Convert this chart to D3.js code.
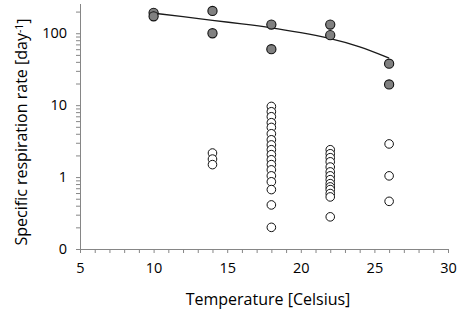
<!DOCTYPE html>
<html>
<head>
<meta charset="utf-8">
<script src="https://cdn.jsdelivr.net/npm/d3@7"></script>
<style>
  body { margin: 0; background: #fff; }
  text { font-family: "Open Sans", sans-serif; fill: #000; }
</style>
</head>
<body>
<div id="chart"></div>
<script>
// Filled markers (grey)
const fillT = [10, 10, 14, 14, 18, 18, 22, 22, 26, 26];
const fillV = [192, 172, 204, 100, 132, 60, 132, 94, 37.7, 19.4];

// Open markers
const openT = [14, 14, 14,
  18, 18, 18, 18, 18, 18, 18, 18, 18, 18, 18, 18, 18, 18, 18, 18, 18, 18,
  22, 22, 22, 22, 22, 22, 22, 22, 22, 22, 22, 22, 22, 22,
  26, 26, 26];
const openV = [2.16, 1.78, 1.49,
  9.6, 8.1, 6.9, 5.7, 4.9, 4.0, 3.3, 2.8, 2.4, 2.05, 1.74, 1.49, 1.26, 1.04, 0.86, 0.67, 0.41, 0.20,
  2.4, 2.11, 1.86, 1.63, 1.38, 1.18, 1.04, 0.92, 0.81, 0.73, 0.67, 0.59, 0.53, 0.28,
  2.89, 1.04, 0.46];

// Trend line
const trendT = [10, 12, 14, 16, 18, 20, 22, 24, 26];
const trendV = [190, 170, 151, 135, 120, 102, 85, 66, 45];

const xTicks = [5, 10, 15, 20, 25, 30];
const yTicks = [0.1, 1, 10, 100];
const yTickLabels = ["0", "1", "10", "100"];

const width = 459, height = 312;
const svg = d3.select("#chart").append("svg")
  .attr("width", width).attr("height", height);

const x = d3.scaleLinear().domain([5, 30]).range([80, 448]);
const y = d3.scaleLog().domain([0.1, 255]).range([249, 4]);

const axisColor = "#868686";

// x axis with minor ticks every unit
const xAll = d3.range(5, 31, 1);
const gx = svg.append("g").attr("transform", `translate(0,${y(0.1)})`)
  .call(d3.axisBottom(x).tickValues(xAll).tickSize(4).tickSizeOuter(0)
    .tickFormat(d => xTicks.includes(d) ? d : ""));
gx.select(".domain").attr("stroke", axisColor).attr("d", `M${x(5) - 4},0.5H${x(30)}`);
gx.selectAll(".tick line").attr("stroke", axisColor);
gx.selectAll(".tick text").attr("dy", "1.2em").style("font-size", "14.5px");

// y axis with log minor ticks
const yAll = [];
[0.1, 1, 10, 100].forEach(dec => {
  for (let k = 1; k <= 9; k++) {
    const v = dec * k;
    if (v <= 255) yAll.push(+v.toPrecision(3));
  }
});
const gy = svg.append("g").attr("transform", `translate(${x(5)},0)`)
  .call(d3.axisLeft(y).tickValues(yAll).tickSize(4).tickSizeOuter(0)
    .tickFormat(d => {
      const i = yTicks.indexOf(d);
      return i >= 0 ? yTickLabels[i] : "";
    }));
gy.select(".domain").attr("stroke", axisColor).attr("d", `M0.5,${y(0.1)}V4`);
gy.selectAll(".tick line").attr("stroke", axisColor);
gy.selectAll(".tick text").attr("x", -13).style("font-size", "14.5px");

// trend line
const line = d3.line()
  .x((d, i) => x(trendT[i]))
  .y(d => y(d))
  .curve(d3.curveBasis);
svg.append("path").datum(trendV)
  .attr("d", line)
  .attr("fill", "none")
  .attr("stroke", "#1a1a1a")
  .attr("stroke-width", 1.3);

// open markers
svg.append("g").selectAll("circle")
  .data(openV)
  .join("circle")
  .attr("cx", (d, i) => x(openT[i]))
  .attr("cy", d => y(d))
  .attr("r", 4.3)
  .attr("fill", "#fff")
  .attr("stroke", "#111")
  .attr("stroke-width", 1);

// filled markers
svg.append("g").selectAll("circle")
  .data(fillV)
  .join("circle")
  .attr("cx", (d, i) => x(fillT[i]))
  .attr("cy", d => y(d))
  .attr("r", 4.6)
  .attr("fill", "#808080")
  .attr("stroke", "#111")
  .attr("stroke-width", 1.1);

// axis titles
svg.append("text")
  .attr("x", 268)
  .attr("y", 305)
  .attr("text-anchor", "middle")
  .style("font-size", "16px")
  .text("Temperature [Celsius]");

const yl = svg.append("text")
  .attr("transform", `translate(27,${132}) rotate(-90)`)
  .attr("text-anchor", "middle")
  .style("font-size", "16px");
yl.append("tspan").text("Specific respiration rate [day");
yl.append("tspan").attr("dy", "-0.4em").style("font-size", "10.5px").text("-1");
yl.append("tspan").attr("dy", "0.4em").text("]");
</script>
</body>
</html>
